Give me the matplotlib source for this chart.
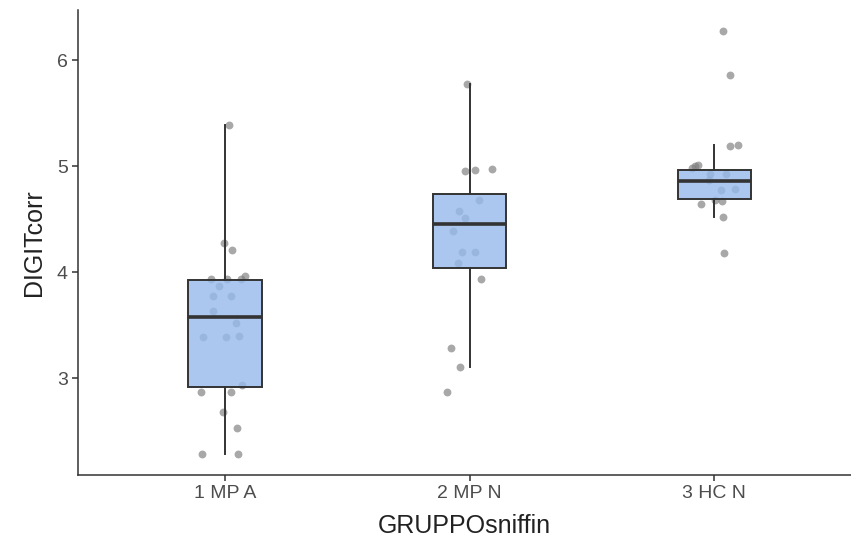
import numpy as np
import matplotlib
matplotlib.use('Agg')
import matplotlib.pyplot as plt

plt.rcParams['font.family'] = ['Liberation Sans', 'DejaVu Sans']

groups = ['1 MP A', '2 MP N', '3 HC N']
q1 = [2.918, 4.040, 4.695]
med = [3.578, 4.453, 4.862]
q3 = [3.925, 4.742, 4.969]
whislo = [2.290, 3.107, 4.522]
whishi = [5.387, 5.780, 5.198]

# jittered points (x offset from group centre, value)
g1_dx = [0.018, -0.004, 0.031, 0.082, -0.058, 0.009, 0.064, -0.023, -0.050, 0.025, -0.048,
         0.045, -0.089, 0.004, 0.058, 0.068, -0.099, 0.025, -0.007, 0.048, -0.095, 0.052]
g1_y = [5.387, 4.28, 4.208, 3.97, 3.94, 3.94, 3.94, 3.87, 3.774, 3.774, 3.64,
        3.52, 3.39, 3.39, 3.396, 2.934, 2.87, 2.87, 2.68, 2.535, 2.29, 2.29]
g2_dx = [-0.009, -0.020, 0.020, 0.093, 0.038, -0.044, -0.020, -0.068, -0.030, 0.020,
         -0.048, 0.045, -0.075, -0.041, -0.091]
g2_y = [5.78, 4.953, 4.962, 4.97, 4.679, 4.58, 4.516, 4.387, 4.19, 4.19,
        4.09, 3.934, 3.286, 3.107, 2.87]
g3_dx = [0.034, 0.064, 0.064, 0.095, -0.079, -0.068, -0.093, -0.018, 0.047, -0.021,
         0.026, 0.084, 0.002, 0.030, -0.055, 0.036, 0.040]
g3_y = [6.274, 5.858, 5.19, 5.20, 5.0, 5.01, 4.98, 4.93, 4.93, 4.87,
        4.78, 4.79, 4.68, 4.673, 4.64, 4.52, 4.186]

fig = plt.figure(figsize=(8.51, 5.54), dpi=100)
ax = fig.add_axes([78.3/851, 79/554, (851-78.3)/851, 465/554])

# points first, box drawn over them half see-through
for i, (dx, y) in enumerate([(g1_dx, g1_y), (g2_dx, g2_y), (g3_dx, g3_y)]):
    x = np.array(dx) + i + 1
    ax.scatter(x, y, s=32, color='#7a7a7a', alpha=0.65, linewidths=0, zorder=1)

stats = []
for i in range(3):
    stats.append(dict(q1=q1[i], med=med[i], q3=q3[i], whislo=whislo[i], whishi=whishi[i],
                      fliers=[], label=groups[i]))

ax.bxp(stats, positions=[1, 2, 3], widths=0.3, patch_artist=True, showcaps=False,
       showfliers=False,
       boxprops=dict(facecolor=(150/255, 186/255, 236/255, 0.8), edgecolor='#333333', linewidth=1.4),
       medianprops=dict(color='#333333', linewidth=2.6),
       whiskerprops=dict(color='#333333', linewidth=1.4), zorder=2)

ax.set_xlim(0.401, 3.558)
ax.set_ylim(2.09, 6.473)
ax.set_yticks([3, 4, 5, 6])
ax.set_xticks([1, 2, 3])
ax.set_xticklabels(groups)

for s in ['top', 'right']:
    ax.spines[s].set_visible(False)
for s in ['left', 'bottom']:
    ax.spines[s].set_color('#333333')
    ax.spines[s].set_linewidth(1.1)
ax.tick_params(colors='#333333', labelcolor='#4D4D4D', labelsize=14, length=4, width=1.1)
ax.set_xlabel('GRUPPOsniffin', fontsize=18, color='#222222', labelpad=8)
ax.set_ylabel('DIGITcorr', fontsize=18, color='#222222', labelpad=8)

fig.savefig('out.png', dpi=100)
